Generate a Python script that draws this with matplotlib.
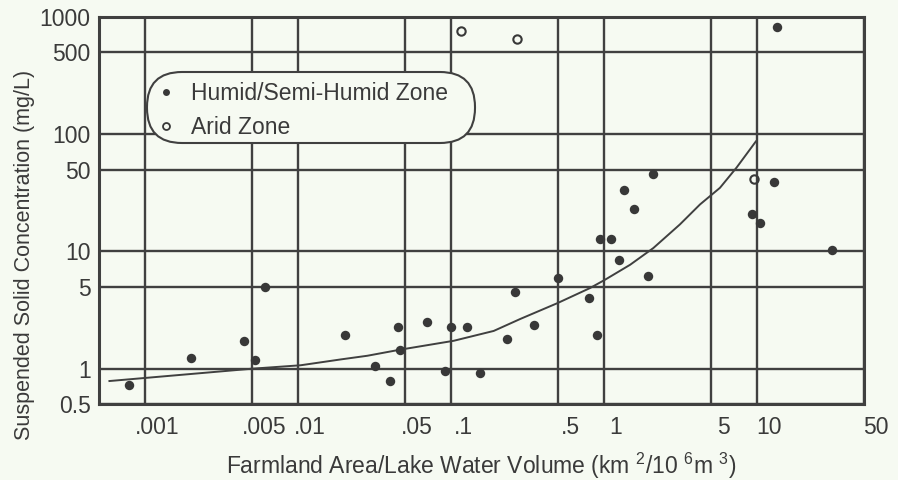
import matplotlib
matplotlib.use('Agg')
import matplotlib.pyplot as plt
import matplotlib.transforms as mtransforms
from matplotlib.lines import Line2D
from matplotlib.patches import FancyBboxPatch

plt.rcParams['font.family'] = ['Liberation Sans', 'DejaVu Sans']
plt.rcParams['mathtext.fontset'] = 'custom'
plt.rcParams['mathtext.rm'] = 'Liberation Sans'
plt.rcParams['mathtext.it'] = 'Liberation Sans'

# humid / semi-humid zone (filled dots)
humid_x = [0.00078, 0.0020, 0.0044, 0.0052, 0.0061,
           0.0203, 0.0316, 0.0398, 0.0449, 0.0463, 0.0698, 0.0919, 0.0996,
           0.1265, 0.155, 0.232, 0.262, 0.347, 0.497, 0.803, 0.906,
           0.944, 1.11, 1.26, 1.35, 1.58, 1.95, 2.10,
           13.4, 12.9, 9.2, 10.5, 30.9]
humid_y = [0.72, 1.24, 1.73, 1.19, 4.94,
           1.92, 1.06, 0.785, 2.26, 1.45, 2.49, 0.955, 2.26,
           2.26, 0.92, 1.80, 4.51, 2.37, 5.9, 4.0, 1.92,
           12.8, 12.8, 8.48, 33.5, 22.9, 6.14, 46.2,
           814, 39.5, 20.7, 17.6, 10.3]

# arid zone (open circles)
arid_x = [0.116, 0.271, 9.53]
arid_y = [762, 651, 41.9]

# fitted curve
curve_x = [0.000585, 0.005, 0.0104, 0.019, 0.0284, 0.046, 0.104, 0.19, 0.284,
           0.497, 0.811, 1.017, 1.48, 2.10, 3.13, 4.24, 5.72, 7.35, 9.82]
curve_y = [0.785, 1.0, 1.07, 1.2, 1.29, 1.45, 1.73, 2.1, 2.66,
           3.63, 4.88, 5.75, 7.7, 10.7, 17.0, 25.2, 34.9, 52, 86.8]

xticks = [0.001, 0.005, 0.01, 0.05, 0.1, 0.5, 1, 5, 10, 50]
xtick_labels = ['.001', '.005', '.01', '.05', '.1', '.5', '1', '5', '10', '50']
yticks = [0.5, 1, 5, 10, 50, 100, 500, 1000]
ytick_labels = ['0.5', '1', '5', '10', '50', '100', '500', '1000']

bg = '#f6faf2'
ink = '#3a3a3a'
fs = 16.5

fig = plt.figure(figsize=(8.98, 4.80), dpi=100, facecolor=bg)
ax = fig.add_axes([99 / 898, 1 - 404 / 480, 765 / 898, 387 / 480])
ax.set_facecolor(bg)
ax.set_xscale('log')
ax.set_yscale('log')
ax.set_xlim(0.0005, 50)
ax.set_ylim(0.5, 1000)

ax.set_xticks(xticks, labels=xtick_labels)
ax.set_yticks(yticks, labels=ytick_labels)
ax.minorticks_off()
ax.tick_params(length=0, labelsize=fs, colors=ink)
ax.tick_params(axis='x', pad=9)
ax.tick_params(axis='y', pad=6)
ax.grid(True, color='#404040', lw=1.7)
for sp in ax.spines.values():
    sp.set_color('#404040')
    sp.set_linewidth(2.2)

# x tick labels sit a little to the right of their grid lines
offset = mtransforms.ScaledTranslation(12 / 100, 0, fig.dpi_scale_trans)
for lab in ax.get_xticklabels():
    lab.set_transform(lab.get_transform() + offset)

ax.plot(curve_x, curve_y, color='#404040', lw=1.4, zorder=3)
ax.plot(humid_x, humid_y, 'o', color='#383838', ms=6.8, mec='none', zorder=4)
ax.plot(arid_x, arid_y, 'o', mfc='none', mec='#383838', ms=6, mew=1.5, zorder=4)

# pill-shaped legend frame (pixel coordinates of the figure)
pill = FancyBboxPatch((147, 480 - 143), 328, 71,
                      boxstyle='round,pad=0,rounding_size=35',
                      transform=mtransforms.IdentityTransform(),
                      facecolor=bg, edgecolor='#404040', lw=1.5, zorder=5)
ax.add_artist(pill)
pill.set_clip_on(False)

handles = [Line2D([], [], ls='none', marker='o', color='#383838', ms=5, mec='none'),
           Line2D([], [], ls='none', marker='o', mfc='none', mec='#383838', ms=5, mew=1.3)]
leg = ax.legend(handles, ['Humid/Semi-Humid Zone', 'Arid Zone'],
                loc='upper left', bbox_to_anchor=(158 / 898, 1 - 80 / 480),
                bbox_transform=fig.transFigure, borderaxespad=0,
                fontsize=fs, handlelength=0.5, handletextpad=0.85,
                labelspacing=0.45, borderpad=0.1, frameon=False)
for t in leg.get_texts():
    t.set_color(ink)
leg.set_zorder(6)

fig.text(25 / 898, 1 - 255 / 480, 'Suspended Solid Concentration (mg/L)',
         rotation=90, ha='center', va='center', fontsize=15.5, color=ink)
fig.text(481 / 898, 1 - 466 / 480,
         r'Farmland Area/Lake Water Volume (km $^{2}$/10 $^{6}$m $^{3}$)',
         ha='center', va='center', fontsize=fs, color=ink)

fig.savefig('out.png', dpi=100, facecolor=bg)
